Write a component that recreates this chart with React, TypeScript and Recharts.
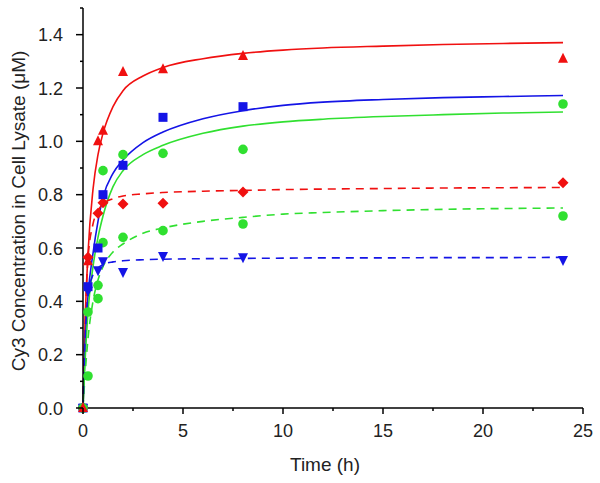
import { ComposedChart, Line, Scatter, XAxis, YAxis } from 'recharts'

// fitted curves at these times (h)
const fitTimes = [0, 0.1, 0.25, 0.5, 0.75, 1, 1.5, 2, 3, 4, 6, 8, 10, 12, 15, 18, 21, 24]
const redFit = [0, 0.31, 0.58, 0.82, 0.95, 1.03, 1.13, 1.19, 1.245, 1.277, 1.31, 1.33, 1.342, 1.35, 1.357, 1.363, 1.367, 1.37]
const blueFit = [0, 0.22, 0.42, 0.58, 0.7, 0.79, 0.88, 0.93, 0.995, 1.035, 1.085, 1.115, 1.135, 1.147, 1.157, 1.164, 1.168, 1.172]
const greenFit = [0, 0.17, 0.36, 0.53, 0.64, 0.72, 0.83, 0.89, 0.95, 0.985, 1.03, 1.057, 1.073, 1.083, 1.093, 1.1, 1.106, 1.11]
const redDashFit = [0, 0.3, 0.56, 0.69, 0.74, 0.765, 0.785, 0.795, 0.803, 0.808, 0.813, 0.816, 0.819, 0.821, 0.823, 0.825, 0.826, 0.827]
const greenDashFit = [0, 0.12, 0.26, 0.4, 0.48, 0.53, 0.585, 0.615, 0.655, 0.675, 0.7, 0.715, 0.727, 0.733, 0.74, 0.745, 0.748, 0.75]
const blueDashFit = [0, 0.25, 0.42, 0.5, 0.525, 0.538, 0.548, 0.552, 0.556, 0.558, 0.56, 0.561, 0.562, 0.563, 0.563, 0.564, 0.564, 0.565]

// measured points (null = not visible)
const sampleTimes = [0, 0.25, 0.75, 1, 2, 4, 8, 24]
const redTriangles = [0, 0.55, 1.0, 1.04, 1.26, 1.27, 1.32, 1.31]
const blueSquares = [0, 0.455, 0.6, 0.8, 0.91, 1.09, 1.13, null]
const greenCircles = [0, 0.36, 0.46, 0.89, 0.95, 0.955, 0.97, 1.14]
const redDiamonds = [0, 0.565, 0.73, 0.77, 0.765, 0.768, 0.81, 0.845]
const greenDots = [0, 0.12, 0.41, 0.62, 0.64, 0.665, 0.69, 0.72]
const blueDownTriangles = [0, 0.44, 0.517, 0.55, 0.51, 0.57, 0.565, 0.555]

const xTicks = [0, 2.5, 5, 7.5, 10, 12.5, 15, 17.5, 20, 22.5, 25]
const yTicks = [0, 0.1, 0.2, 0.3, 0.4, 0.5, 0.6, 0.7, 0.8, 0.9, 1.0, 1.1, 1.2, 1.3, 1.4, 1.5]

const RED = '#f01010'
const BLUE = '#1414e6'
const GREEN = '#30e030'
const FONT = '"Liberation Sans", Arial, sans-serif'

const toPoints = (xs: number[], ys: (number | null)[]) =>
  xs.map((t, i) => ({ t, v: ys[i] })).filter((p) => p.v !== null)

function Marker({ cx, cy, kind, color }: any) {
  const s = 5
  if (kind === 'tri') return <polygon points={`${cx},${cy - s - 1} ${cx - s},${cy + s - 1} ${cx + s},${cy + s - 1}`} fill={color} />
  if (kind === 'down') return <polygon points={`${cx},${cy + s + 1} ${cx - s},${cy - s + 1} ${cx + s},${cy - s + 1}`} fill={color} />
  if (kind === 'square') return <rect x={cx - 4.5} y={cy - 4.5} width={9} height={9} fill={color} />
  if (kind === 'diamond') return <polygon points={`${cx},${cy - 5.5} ${cx + 5.5},${cy} ${cx},${cy + 5.5} ${cx - 5.5},${cy}`} fill={color} />
  return <circle cx={cx} cy={cy} r={4.8} fill={color} />
}

function XTick({ x, y, payload }: any) {
  const major = payload.value % 5 === 0
  return (
    <g>
      <line x1={x} y1={y} x2={x} y2={y + (major ? 6 : 3)} stroke="#000" strokeWidth={1.5} />
      {major && (
        <text x={x} y={y + 29} textAnchor="middle" fontSize={18} fontFamily={FONT} fill="#222">
          {payload.value}
        </text>
      )}
    </g>
  )
}

function YTick({ x, y, payload }: any) {
  const idx = Math.round(payload.value * 10)
  const major = idx % 2 === 0 && idx < 15
  return (
    <g>
      <line x1={x - (major ? 7 : 3)} y1={y} x2={x} y2={y} stroke="#000" strokeWidth={1.5} />
      {major && (
        <text x={x - 20} y={y + 6.5} textAnchor="end" fontSize={18} fontFamily={FONT} fill="#222">
          {payload.value.toFixed(1)}
        </text>
      )}
    </g>
  )
}

const fits = [
  { ys: redFit, color: RED, dash: undefined },
  { ys: blueFit, color: BLUE, dash: undefined },
  { ys: greenFit, color: GREEN, dash: undefined },
  { ys: redDashFit, color: RED, dash: '8 6' },
  { ys: greenDashFit, color: GREEN, dash: '8 6' },
  { ys: blueDashFit, color: BLUE, dash: '8 6' },
]

const points = [
  { ys: greenDots, color: GREEN, kind: 'circle' },
  { ys: blueDownTriangles, color: BLUE, kind: 'down' },
  { ys: redDiamonds, color: RED, kind: 'diamond' },
  { ys: blueSquares, color: BLUE, kind: 'square' },
  { ys: greenCircles, color: GREEN, kind: 'circle' },
  { ys: redTriangles, color: RED, kind: 'tri' },
]

export default function App() {
  return (
    <div style={{ position: 'absolute', left: 0, top: 0, background: '#fff' }}>
      <ComposedChart width={600} height={483} margin={{ top: 8, right: 17, bottom: 0, left: 0 }}>
        <XAxis
          type="number"
          dataKey="t"
          domain={[0, 25]}
          ticks={xTicks}
          interval={0}
          height={75}
          tickSize={0}
          tickMargin={0}
          tick={<XTick />}
          axisLine={{ stroke: '#000', strokeWidth: 1.5 }}
          label={{
            content: () => (
              <text x={325} y={471} textAnchor="middle" fontSize={19} fontFamily={FONT} fill="#222">
                Time (h)
              </text>
            ),
          }}
        />
        <YAxis
          type="number"
          domain={[0, 1.5]}
          ticks={yTicks}
          interval={0}
          width={83}
          tickSize={0}
          tickMargin={0}
          tick={<YTick />}
          axisLine={{ stroke: '#000', strokeWidth: 1.5 }}
          label={{
            content: () => (
              <text x={25} y={211} transform="rotate(-90 25 211)" textAnchor="middle" fontSize={19} fontFamily={FONT} fill="#222">
                Cy3 Concentration in Cell Lysate (μM)
              </text>
            ),
          }}
        />
        {fits.map((f, i) => (
          <Line
            key={'fit' + i}
            data={toPoints(fitTimes, f.ys)}
            dataKey="v"
            type="monotone"
            stroke={f.color}
            strokeWidth={1.6}
            strokeDasharray={f.dash}
            dot={false}
            activeDot={false}
            isAnimationActive={false}
          />
        ))}
        {points.map((p, i) => (
          <Scatter
            key={'pts' + i}
            data={toPoints(sampleTimes, p.ys)}
            dataKey="v"
            shape={(props: any) => <Marker {...props} kind={p.kind} color={p.color} />}
            isAnimationActive={false}
          />
        ))}
      </ComposedChart>
    </div>
  )
}
